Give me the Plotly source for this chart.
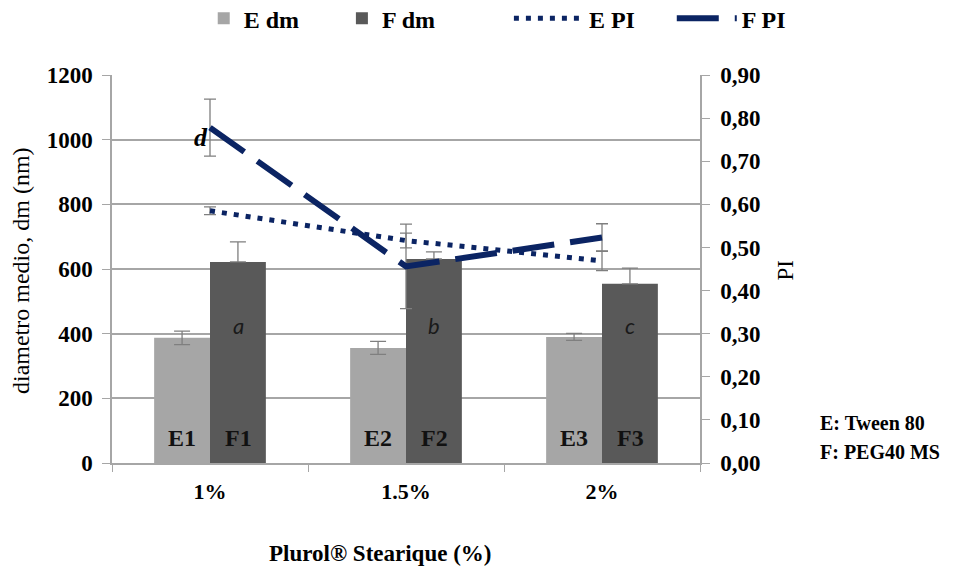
import plotly.graph_objects as go

categories = ["1%", "1.5%", "2%"]
e_dm = [387, 356, 390]
e_dm_err = [21, 20, 11]
f_dm = [622, 631, 554]
f_dm_err = [62, 22, 49]
e_pi = [0.585, 0.516, 0.469]
e_pi_err = [0.009, 0.017, 0.023]
f_pi = [0.778, 0.456, 0.523]
f_pi_err = [0.066, 0.098, 0.032]
e_labels = ["E1", "E2", "E3"]
f_labels = ["F1", "F2", "F3"]
f_letters = ["a", "b", "c"]
letter_level = 425

NAVY = "#0b2463"
GRID = "#a6a6a6"
ERR = "#7f7f7f"
SERIF = "Liberation Serif"

fig = go.Figure()
fig.add_trace(go.Bar(
    x=categories, y=e_dm, name="E dm", legend="legend",
    marker=dict(color="#a6a6a6", line=dict(width=0)),
    error_y=dict(type="data", array=e_dm_err, color=ERR, thickness=1.3, width=8),
))
fig.add_trace(go.Bar(
    x=categories, y=f_dm, name="F dm", legend="legend2",
    marker=dict(color="#595959", line=dict(width=0)),
    error_y=dict(type="data", symmetric=False, array=f_dm_err, arrayminus=[0, 0, 0],
                 color=ERR, thickness=1.3, width=8),
))
fig.add_trace(go.Scatter(
    x=categories, y=e_pi, name="E PI", yaxis="y2", mode="lines", legend="legend3",
    line=dict(color=NAVY, width=5, dash="5px,7px"),
    error_y=dict(type="data", array=e_pi_err, color=ERR, thickness=1.3, width=6),
))
fig.add_trace(go.Scatter(
    x=categories, y=f_pi, name="F PI", yaxis="y2", mode="lines", legend="legend4",
    line=dict(color=NAVY, width=6, dash="42px,16px"),
    error_y=dict(type="data", array=f_pi_err, color=ERR, thickness=1.3, width=6),
))

labfont = dict(family=SERIF, size=24, color="#111111", weight="bold")
for cat, el, fl in zip(categories, e_labels, f_labels):
    fig.add_annotation(x=cat, y=0, text=el, showarrow=False, xshift=-28, yshift=25,
                       font=labfont)
    fig.add_annotation(x=cat, y=0, text=fl, showarrow=False, xshift=28, yshift=25,
                       font=labfont)
for cat, s in zip(categories, f_letters):
    fig.add_annotation(x=cat, y=letter_level, text=s, showarrow=False, xshift=28,
                       font=dict(family="Lato", size=22, color="#1a1a1a", style="italic"))
fig.add_annotation(x=categories[0], y=f_pi[0], yref="y2", text="d", showarrow=False,
                   xshift=-9, yshift=-10,
                   font=dict(family=SERIF, size=26, color="black", style="italic", weight="bold"))

fig.add_annotation(xref="paper", yref="paper", x=0.456, y=-0.232, xanchor="center",
                   yanchor="middle", text="Plurol® Stearique (%)", showarrow=False,
                   font=dict(family=SERIF, size=23, color="black", weight="bold"))
fig.add_annotation(xref="paper", yref="paper", x=-0.155, y=0.497, xanchor="center",
                   yanchor="middle", text="diametro medio, dm (nm)",
                   textangle=-90, showarrow=False,
                   font=dict(family=SERIF, size=24, color="black"))
fig.add_annotation(xref="paper", yref="paper", x=1.145, y=0.497, xanchor="center",
                   yanchor="middle", text="PI",
                   textangle=-90, showarrow=False,
                   font=dict(family=SERIF, size=23, color="black"))
fig.add_annotation(xref="paper", yref="paper", x=1.2, y=0.103, xanchor="left",
                   yanchor="middle", text="E: Tween 80", showarrow=False,
                   font=dict(family=SERIF, size=20, color="black", weight="bold"))
fig.add_annotation(xref="paper", yref="paper", x=1.2, y=0.028, xanchor="left",
                   yanchor="middle", text="F: PEG40 MS", showarrow=False,
                   font=dict(family=SERIF, size=20, color="black", weight="bold"))

legfont = dict(family=SERIF, size=24, color="black", weight="bold")
def leg(x, iw):
    return dict(orientation="h", x=x, xanchor="left", y=1.145, yanchor="middle",
                font=legfont, itemwidth=iw, bgcolor="rgba(0,0,0,0)")

fig.update_layout(
    width=958, height=574,
    margin=dict(l=112, r=258, t=75, b=111, pad=0, autoexpand=False),
    paper_bgcolor="white", plot_bgcolor="white",
    barmode="group", bargap=0.43, bargroupgap=0,
    separators=",.",
    showlegend=True,
    legend=leg(0.156, 30),
    legend2=leg(0.391, 30),
    legend3=leg(0.675, 70),
    legend4=leg(0.952, 60),
    xaxis=dict(type="category", showline=True, linecolor=GRID, linewidth=1.5,
               ticks="outside", tickson="boundaries", ticklen=7, tickcolor=GRID,
               ticklabelstandoff=8,
               tickfont=dict(family=SERIF, size=22, color="black", weight="bold"),
               showgrid=False),
    yaxis=dict(range=[0, 1200], dtick=200, showline=True, linecolor=GRID, linewidth=1.5,
               ticks="outside", ticklen=8, tickcolor=GRID, gridcolor=GRID, gridwidth=1.5,
               ticklabelstandoff=5,
               tickfont=dict(family=SERIF, size=23, color="black", weight="bold"),
               zeroline=False),
    yaxis2=dict(range=[0, 0.9], dtick=0.1, tickformat=".2f", overlaying="y", side="right",
                showline=True, linecolor=GRID, linewidth=1.5, ticks="outside", ticklen=8,
                tickcolor=GRID, showgrid=False, zeroline=False, ticklabelstandoff=6,
                tickfont=dict(family=SERIF, size=23, color="black", weight="bold")),
)

fig.write_html("out.html", config={"displayModeBar": False},
               post_script="document.body.style.margin='0';")
